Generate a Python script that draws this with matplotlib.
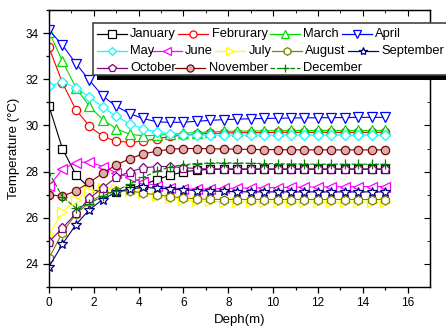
import numpy as np
import matplotlib
matplotlib.use("Agg")
import matplotlib.pyplot as plt
from matplotlib.lines import Line2D
from matplotlib.patches import Rectangle
from matplotlib.transforms import Affine2D

plt.rcParams['font.family'] = ['Liberation Sans', 'DejaVu Sans']

depth = [0.0, 0.6, 1.2, 1.8, 2.4, 3.0, 3.6, 4.2, 4.8, 5.4, 6.0, 6.6, 7.2,
         7.8, 8.4, 9.0, 9.6, 10.2, 10.8, 11.4, 12.0, 12.6, 13.2, 13.8, 14.4, 15.0]

months = ['January', 'Februrary', 'March', 'April', 'May', 'June', 'July',
          'August', 'September', 'October', 'November', 'December']

jan = [30.83, 28.99, 27.86, 27.29, 27.07, 27.10, 27.25, 27.43, 27.65, 27.84, 27.99, 28.06, 28.10,
       28.11, 28.11, 28.11, 28.11, 28.11, 28.11, 28.11, 28.11, 28.11, 28.11, 28.11, 28.11, 28.11]
feb = [33.38, 31.84, 30.68, 29.97, 29.52, 29.32, 29.27, 29.32, 29.42, 29.52, 29.58, 29.62, 29.65,
       29.67, 29.68, 29.69, 29.69, 29.70, 29.70, 29.70, 29.70, 29.70, 29.70, 29.70, 29.70, 29.70]
mar = [34.06, 32.78, 31.64, 30.83, 30.25, 29.86, 29.62, 29.55, 29.57, 29.62, 29.66, 29.69, 29.72,
       29.74, 29.75, 29.76, 29.77, 29.77, 29.78, 29.78, 29.78, 29.78, 29.78, 29.78, 29.78, 29.78]
apr = [34.13, 33.48, 32.68, 31.96, 31.27, 30.83, 30.51, 30.30, 30.16, 30.13, 30.14, 30.18, 30.22,
       30.25, 30.27, 30.29, 30.30, 30.31, 30.32, 30.33, 30.33, 30.34, 30.34, 30.35, 30.35, 30.35]
may = [31.70, 31.88, 31.64, 31.23, 30.80, 30.39, 30.07, 29.86, 29.71, 29.64, 29.60, 29.58, 29.58,
       29.58, 29.58, 29.58, 29.58, 29.58, 29.58, 29.58, 29.58, 29.58, 29.58, 29.58, 29.58, 29.58]
jun = [27.37, 28.10, 28.39, 28.42, 28.22, 27.95, 27.75, 27.53, 27.39, 27.29, 27.25, 27.24, 27.25,
       27.27, 27.28, 27.29, 27.30, 27.31, 27.32, 27.33, 27.33, 27.34, 27.34, 27.35, 27.35, 27.35]
jul = [25.26, 26.26, 26.77, 27.17, 27.29, 27.25, 27.14, 27.06, 26.96, 26.86, 26.79, 26.74, 26.71,
       26.70, 26.70, 26.70, 26.69, 26.69, 26.69, 26.69, 26.68, 26.68, 26.68, 26.68, 26.68, 26.68]
aug = [24.25, 25.36, 26.16, 26.67, 27.03, 27.14, 27.17, 27.07, 27.00, 26.92, 26.86, 26.82, 26.80,
       26.79, 26.79, 26.79, 26.79, 26.79, 26.79, 26.79, 26.79, 26.79, 26.79, 26.79, 26.79, 26.79]
sep = [23.87, 24.86, 25.70, 26.35, 26.79, 27.12, 27.24, 27.32, 27.28, 27.25, 27.21, 27.18, 27.16,
       27.14, 27.13, 27.12, 27.12, 27.12, 27.12, 27.12, 27.12, 27.12, 27.12, 27.12, 27.12, 27.12]
octo = [24.96, 25.55, 26.19, 26.84, 27.30, 27.75, 27.99, 28.16, 28.22, 28.22, 28.17, 28.13, 28.11,
        28.10, 28.10, 28.10, 28.10, 28.10, 28.10, 28.10, 28.10, 28.10, 28.10, 28.10, 28.10, 28.10]
nov = [27.00, 26.93, 27.17, 27.53, 27.93, 28.29, 28.55, 28.77, 28.88, 28.97, 29.00, 29.00, 28.99,
       28.98, 28.97, 28.96, 28.95, 28.95, 28.94, 28.94, 28.94, 28.94, 28.94, 28.94, 28.94, 28.94]
dec = [27.95, 26.91, 26.42, 26.60, 26.95, 27.17, 27.46, 27.75, 28.01, 28.20, 28.30, 28.35, 28.37,
       28.38, 28.37, 28.36, 28.35, 28.34, 28.33, 28.33, 28.32, 28.32, 28.32, 28.32, 28.32, 28.32]

series = [jan, feb, mar, apr, may, jun, jul, aug, sep, octo, nov, dec]
colors = ['black', '#FF0000', '#00DD00', '#0000FF', '#00FFFF', '#FF00FF', '#FFFF00',
          '#808000', '#000080', '#800080', '#800000', '#008000']
markers = ['s', 'o', '^', 'v', 'D', '<', '>', 'h', '*', 'p', 'o', '+']
faces = ['white'] * 10 + ['#d9b0b0', 'none']
msizes = [6, 6, 6.5, 6.5, 5, 6.5, 6.5, 6.5, 7, 6.5, 6, 7]
styles = ['-'] * 11 + ['--']

W, H = 446, 329
fig = plt.figure(figsize=(W / 100, H / 100), dpi=100)
ax = fig.add_axes([49 / W, 1 - 287 / H, (430 - 49) / W, (287 - 10) / H])

for vals, c, m, fc, ms, ls in zip(series, colors, markers, faces, msizes, styles):
    ax.plot(depth, vals, color=c, lw=0.8, ls=ls, marker=m, ms=ms,
            mfc=fc, mec=c, mew=0.9)

ax.set_xlim(0, 17)
ax.set_ylim(23, 35)
ax.set_xticks(np.arange(0, 17, 2))
ax.set_xticks(np.arange(1, 17, 2), minor=True)
ax.set_yticks([24, 26, 28, 30, 32, 34])
ax.set_yticks([23, 25, 27, 29, 31, 33, 35], minor=True)
ax.tick_params(which='major', direction='out', length=4, width=0.9, labelsize=8.5)
ax.tick_params(which='minor', direction='out', length=2.5, width=0.9)
for s in ax.spines.values():
    s.set_linewidth(1.0)

top = ax.secondary_xaxis('top')
top.set_xticks(np.arange(0, 17, 2))
top.set_xticks(np.arange(1, 17, 2), minor=True)
top.tick_params(which='both', direction='in', labeltop=False)
top.tick_params(which='major', length=4)
top.tick_params(which='minor', length=2.5)
right = ax.secondary_yaxis('right')
right.set_yticks([24, 26, 28, 30, 32, 34])
right.set_yticks([23, 25, 27, 29, 31, 33, 35], minor=True)
right.tick_params(which='both', direction='in', labelright=False)
right.tick_params(which='major', length=4)
right.tick_params(which='minor', length=2.5)

ax.set_xlabel('Deph(m)', fontsize=9.5, labelpad=3)
ax.set_ylabel('Temperature (\u00b0C)', fontsize=9.5, labelpad=4)

# legend drawn by hand in pixel coords (rows of unequal length)
px = Affine2D().scale(1 / W, -1 / H).translate(0, 1) + fig.transFigure
fig.add_artist(Rectangle((96.5, 28), 400, 52, transform=px, facecolor='black',
                         edgecolor='none', zorder=5))
fig.add_artist(Rectangle((92.7, 23.3), 400, 51.7, transform=px, facecolor='white',
                         edgecolor='#444444', lw=1.2, zorder=6))

rows_y = [34.3, 51.0, 67.7]
slots = [(0, 96.7), (0, 178.3), (0, 270.0), (0, 341.7),
         (1, 96.7), (1, 151.7), (1, 215.0), (1, 271.7), (1, 348.0),
         (2, 96.7), (2, 175.0), (2, 270.0)]
for i, (r, x0) in enumerate(slots):
    y = rows_y[r]
    fig.add_artist(Line2D([x0, x0 + 30], [y, y], transform=px, color=colors[i],
                          lw=0.9, ls=styles[i], zorder=7))
    fig.add_artist(Line2D([x0 + 15], [y], transform=px, color=colors[i], lw=0,
                          marker=markers[i], ms=msizes[i] * 0.85, mfc=faces[i],
                          mec=colors[i], mew=0.9, zorder=8))
    fig.text((x0 + 33.5) / W, 1 - y / H, months[i], fontsize=9.3, va='center',
             ha='left', zorder=9)

fig.savefig('out.png', dpi=100)
